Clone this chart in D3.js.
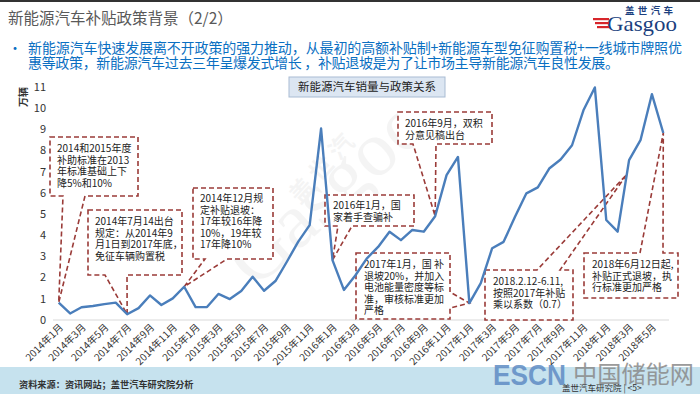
<!DOCTYPE html>
<html>
<head>
<meta charset="utf-8">
<script src="https://cdn.jsdelivr.net/npm/d3@7"></script>
<style>
  body { margin: 0; background: #fff; }
  svg { display: block; font-family: "Noto Sans CJK SC", "Noto Sans", sans-serif; }
</style>
</head>
<body>
<svg id="chart" width="700" height="394"></svg>
<script>
// months on the x axis (2014年1月 .. 2018年6月)
var months = [
  "2014年1月","2014年2月","2014年3月","2014年4月","2014年5月","2014年6月",
  "2014年7月","2014年8月","2014年9月","2014年10月","2014年11月","2014年12月",
  "2015年1月","2015年2月","2015年3月","2015年4月","2015年5月","2015年6月",
  "2015年7月","2015年8月","2015年9月","2015年10月","2015年11月","2015年12月",
  "2016年1月","2016年2月","2016年3月","2016年4月","2016年5月","2016年6月",
  "2016年7月","2016年8月","2016年9月","2016年10月","2016年11月","2016年12月",
  "2017年1月","2017年2月","2017年3月","2017年4月","2017年5月","2017年6月",
  "2017年7月","2017年8月","2017年9月","2017年10月","2017年11月","2017年12月",
  "2018年1月","2018年2月","2018年3月","2018年4月","2018年5月","2018年6月"
];

// monthly sales, 万辆
var sales = [
  0.82, 0.31, 0.60, 0.66, 0.75, 0.82, 0.27, 0.56, 1.16, 0.71, 1.02, 1.57,
  0.61, 0.61, 1.23, 0.99, 1.37, 2.04, 1.38, 1.84, 2.75, 3.70, 4.48, 9.04,
  2.83, 1.42, 2.10, 2.90, 3.45, 4.17, 3.77, 4.25, 4.17, 4.90, 6.84, 7.70,
  0.80, 1.74, 3.39, 3.69, 4.87, 5.98, 6.26, 7.15, 7.58, 8.25, 9.90, 10.98,
  4.72, 4.17, 7.55, 8.49, 10.66, 8.83
];

// tick labels shown on the x axis (every other month)
var xTickLabels = [
  "2014年1月","2014年3月","2014年5月","2014年7月","2014年9月","2014年11月",
  "2015年1月","2015年3月","2015年5月","2015年7月","2015年9月","2015年11月",
  "2016年1月","2016年3月","2016年5月","2016年7月","2016年9月","2016年11月",
  "2017年1月","2017年3月","2017年5月","2017年7月","2017年9月","2017年11月",
  "2018年1月","2018年3月","2018年5月"
];

var yTicks = [0, 1, 2, 3, 4, 5, 6, 7, 8, 9, 10, 11];

// policy notes: text lines and the month the pointer points at
var noteTexts = [
  ["2014和2015年度", "补助标准在2013", "年标准基础上下", "降5%和10%"],
  ["2014年7月14出台", "规定：从2014年9", "月1日到2017年底，", "免征车辆购置税"],
  ["2014年12月规", "定补贴退坡：", "17年较16年降", "10%，19年较", "17年降10%"],
  ["2016年1月，国", "家着手查骗补"],
  ["2016年9月，双积", "分意见稿出台"],
  ["2017年1月，国 补", "退坡20%，并加入", "电池能量密度等标", "准，审核标准更加", "严格"],
  ["2018.2.12-6.11,", "按照2017年补贴", "乘以系数（0.7）"],
  ["2018年6月12日起,", "补贴正式退坡，执", "行标准更加严格"]
];
var noteMonths = [0, 6, 11, 24, 33, 36, 49.8, 53];

// layout of the callout boxes (pixels): box, pointer edge and pointer base
var noteLayout = [
  { x0: 50,  y0: 137, x1: 138, y1: 196, edge: "bottom", a: 63,  b: 85,  tx: 57,  ty: 152 },
  { x0: 88,  y0: 210, x1: 182, y1: 275, edge: "bottom", a: 105, b: 127, tx: 95,  ty: 225 },
  { x0: 193, y0: 188, x1: 273, y1: 259, edge: "bottom", a: 205, b: 227, tx: 200, ty: 202 },
  { x0: 325, y0: 195, x1: 414, y1: 226, edge: "bottom", a: 338, b: 352, tx: 333, ty: 209 },
  { x0: 398, y0: 112, x1: 492, y1: 144, edge: "bottom", a: 413, b: 436, tx: 405, ty: 127 },
  { x0: 356, y0: 253, x1: 450, y1: 319, edge: "right",  a: 292, b: 308, tx: 364, ty: 268 },
  { x0: 485, y0: 270, x1: 573, y1: 320, edge: "top",    a: 537, b: 560, tx: 493, ty: 285 },
  { x0: 584, y0: 253, x1: 678, y1: 298, edge: "top",    a: 640, b: 663, tx: 592, ty: 268 }
];

var svg = d3.select("#chart");
var W = 700, H = 394;

// ---- page furniture ----
svg.append("rect").attr("x", 0).attr("y", 0).attr("width", W).attr("height", 2).attr("fill", "#333");

svg.append("text")
  .attr("x", 8).attr("y", 24)
  .style("font-size", "15.5px")
  .attr("fill", "#595959")
  .text("新能源汽车补贴政策背景（2/2）");

// logo
var logo = svg.append("g");
logo.append("text").attr("x", 625).attr("y", 13.5)
  .attr("textLength", 48).attr("lengthAdjust", "spacing")
  .style("font-size", "9.5px").style("font-weight", "bold").attr("fill", "#1b3f7e").text("盖世汽车");
logo.append("text").attr("x", 607).attr("y", 31)
  .attr("textLength", 70).attr("lengthAdjust", "spacingAndGlyphs")
  .style("font-family", "'Liberation Serif', serif").style("font-size", "21px")
  .attr("fill", "#1b3f7e").text("Gasgoo");
[18, 22, 26].forEach(function (yy, i) {
  logo.append("rect").attr("x", 593 + i * 2).attr("y", yy).attr("width", 16 - i * 2).attr("height", 2.2).attr("fill", "#d7262b");
});

// bullet text
svg.append("text").attr("x", 8).attr("y", 53).attr("fill", "#0a6fc2").style("font-size", "14px").text("•");
var body = svg.append("text").attr("fill", "#0a6fc2").style("font-size", "14px");
body.append("tspan").attr("x", 28).attr("y", 53)
  .attr("textLength", 654).attr("lengthAdjust", "spacing")
  .text("新能源汽车快速发展离不开政策的强力推动，从最初的高额补贴制+新能源车型免征购置税+一线城市牌照优");
var body2 = svg.append("text").attr("fill", "#0a6fc2").style("font-size", "14px");
body2.append("tspan").attr("x", 28).attr("y", 67.5)
  .attr("textLength", 591).attr("lengthAdjust", "spacing")
  .text("惠等政策，新能源汽车过去三年呈爆发式增长 ，补贴退坡是为了让市场主导新能源汽车良性发展。");

// footer band
svg.append("rect").attr("x", 0).attr("y", 367).attr("width", W).attr("height", H - 367).attr("fill", "#c6e2ee");
svg.append("text").attr("x", 19).attr("y", 388)
  .style("font-size", "9.2px").style("font-weight", "bold").attr("fill", "#333")
  .text("资料来源：资讯网站；盖世汽车研究院分析");

// ---- chart ----
var x = d3.scalePoint().domain(months).range([53, 669]).padding(0.5);
var y = d3.scaleLinear().domain([0, 11]).range([320, 87]);
var step = x.step();
function xAt(i) { return x(months[0]) + i * step; }
function yAt(i) {
  var lo = Math.floor(i), hi = Math.ceil(i), f = i - lo;
  return y(sales[lo] + (sales[hi] - sales[lo]) * f);
}

// faint watermark
var wm = svg.append("g").attr("fill", "#000").attr("opacity", 0.04);
wm.append("text").attr("transform", "translate(300,205) rotate(-48)")
  .style("font-size", "24px").style("font-weight", "bold").text("盖 世 汽");
wm.append("text").attr("transform", "translate(255,290) rotate(-42)")
  .style("font-family", "'Liberation Serif', serif").style("font-size", "78px").text("Gasgoo");

// baseline
svg.append("line").attr("x1", 53).attr("x2", 669).attr("y1", y(0)).attr("y2", y(0))
  .attr("stroke", "#d9d9d9").attr("stroke-width", 1);

// y axis labels
svg.append("g").selectAll("text").data(yTicks).enter().append("text")
  .attr("x", 46).attr("y", function (d) { return y(d); }).attr("dy", "0.35em")
  .attr("text-anchor", "end").style("font-size", "11px").attr("fill", "#333")
  .text(function (d) { return d; });

svg.append("text").attr("transform", "translate(27,97) rotate(-90)")
  .attr("text-anchor", "middle").style("font-size", "10px").style("font-weight", "bold")
  .attr("fill", "#333").text("万辆");

// x axis labels
svg.append("g").selectAll("text").data(xTickLabels).enter().append("text")
  .attr("transform", function (d) { return "translate(" + (x(d) + 5) + "," + 328 + ") rotate(-45)"; })
  .attr("text-anchor", "end").style("font-size", "10px").attr("fill", "#333")
  .text(function (d) { return d; });

// callouts
var notes = svg.append("g");
noteLayout.forEach(function (n, k) {
  var tx = xAt(noteMonths[k]), ty = yAt(noteMonths[k]);
  var p;
  if (n.edge === "bottom") {
    p = "M" + n.x0 + "," + n.y0 + "H" + n.x1 + "V" + n.y1 + "H" + n.b + "L" + tx + "," + ty + "L" + n.a + "," + n.y1 + "H" + n.x0 + "Z";
  } else if (n.edge === "top") {
    p = "M" + n.x0 + "," + n.y0 + "H" + n.a + "L" + tx + "," + ty + "L" + n.b + "," + n.y0 + "H" + n.x1 + "V" + n.y1 + "H" + n.x0 + "Z";
  } else {
    p = "M" + n.x0 + "," + n.y0 + "H" + n.x1 + "V" + n.a + "L" + tx + "," + ty + "L" + n.x1 + "," + n.b + "V" + n.y1 + "H" + n.x0 + "Z";
  }
  notes.append("path").attr("d", p).attr("fill", "#fff")
    .attr("stroke", "#9a3b38").attr("stroke-width", 1.6).attr("stroke-dasharray", "5,3");
  var t = notes.append("text").style("font-size", "10px").attr("fill", "#222");
  noteTexts[k].forEach(function (line, j) {
    t.append("tspan").attr("x", n.tx).attr("y", n.ty + j * 11.6).text(line);
  });
});

// sales line
svg.append("path").datum(sales)
  .attr("fill", "none").attr("stroke", "#4a7ebb").attr("stroke-width", 2.4)
  .attr("stroke-linejoin", "round")
  .attr("d", d3.line().x(function (d, i) { return x(months[i]); }).y(function (d) { return y(d); }));

// chart title box
svg.append("rect").attr("x", 289).attr("y", 77).attr("width", 156).attr("height", 20)
  .attr("fill", "#dce6f2").attr("stroke", "#a9bcd3").attr("stroke-width", 1);
svg.append("text").attr("x", 367).attr("y", 91).attr("text-anchor", "middle")
  .style("font-size", "11.5px").attr("fill", "#222").text("新能源汽车销量与政策关系");

// footer watermark
svg.append("text").attr("x", 493).attr("y", 385)
  .attr("textLength", 73).attr("lengthAdjust", "spacingAndGlyphs")
  .style("font-family", "'Liberation Sans', Arial, sans-serif").style("font-size", "30px").style("font-weight", "bold")
  .attr("fill", "#5f8cc4").attr("opacity", 0.85).text("ESCN");
svg.append("text").attr("x", 573).attr("y", 383)
  .attr("textLength", 121).attr("lengthAdjust", "spacingAndGlyphs")
  .style("font-size", "24px").attr("fill", "#8a8a8a").attr("opacity", 0.85).text("中国储能网");
svg.append("text").attr("x", 562).attr("y", 391)
  .style("font-size", "8.5px").attr("fill", "#333").text("盖世汽车研究院 | <5>");
</script>
</body>
</html>
